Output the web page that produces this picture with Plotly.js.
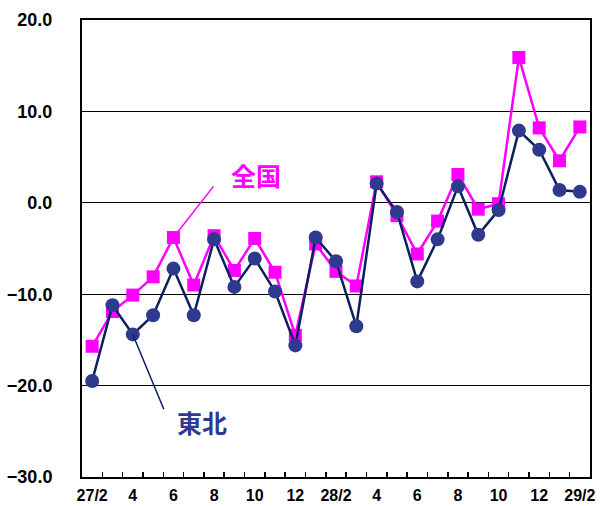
<!DOCTYPE html>
<html>
<head>
<meta charset="utf-8">
<script src="https://cdn.plot.ly/plotly-3.0.1.min.js"></script>
<style>html,body{margin:0;padding:0;background:#fff;}#chart{width:600px;height:506px;}</style>
</head>
<body>
<div id="chart"></div>
<script>
const categories = ['27/2','27/3','27/4','27/5','27/6','27/7','27/8','27/9','27/10','27/11','27/12','28/1',
  '28/2','28/3','28/4','28/5','28/6','28/7','28/8','28/9','28/10','28/11','28/12','29/1','29/2'];
const tickLabels = ['27/2','','4','','6','','8','','10','','12','',
  '28/2','','4','','6','','8','','10','','12','','29/2'];
const zenkoku = [-15.7,-11.9,-10.1,-8.1,-3.8,-9.0,-3.6,-7.4,-3.9,-7.6,-14.5,-4.5,
  -7.5,-9.1,2.3,-1.4,-5.6,-2.0,3.1,-0.7,-0.1,15.9,8.2,4.6,8.3];
const tohoku = [-19.5,-11.2,-14.4,-12.3,-7.2,-12.3,-4.0,-9.2,-6.1,-9.7,-15.6,-3.8,
  -6.4,-13.5,2.1,-1.0,-8.6,-4.0,1.8,-3.5,-0.8,7.9,5.8,1.4,1.2];
const yTicks = [-30,-20,-10,0,10,20];

const font = "'Liberation Sans', Arial, sans-serif";
const traces = [
  {x: categories, y: zenkoku, type: 'scatter', mode: 'lines+markers', name: '全国',
   line: {color: '#FF00FF', width: 2.5},
   marker: {symbol: 'square', size: 13, color: '#FF00FF'}},
  {x: categories, y: tohoku, type: 'scatter', mode: 'lines+markers', name: '東北',
   line: {color: '#0B1F5E', width: 2.5},
   marker: {symbol: 'circle', size: 14, color: '#2E3A8E'}}
];
const layout = {
  width: 600, height: 506,
  margin: {l: 82, r: 10, t: 20, b: 29},
  paper_bgcolor: '#fff', plot_bgcolor: '#fff',
  showlegend: false,
  font: {family: font, color: '#000'},
  xaxis: {
    type: 'category', range: [-0.5, 24.5],
    tickmode: 'array', tickvals: categories, ticktext: tickLabels,
    tickson: 'boundaries', ticks: 'inside', ticklen: 5, tickwidth: 1.5, tickcolor: '#000',
    tickangle: 0,
    showline: true, linecolor: '#000', linewidth: 2, mirror: true,
    showgrid: false, zeroline: false,
    tickfont: {family: font, size: 16, color: '#000', weight: 'bold'},
    ticklabelstandoff: 3
  },
  yaxis: {
    range: [-30, 20], tickmode: 'array', tickvals: yTicks, tickformat: '.1f',
    showline: true, linecolor: '#000', linewidth: 2, mirror: true,
    showgrid: true, gridcolor: '#000', gridwidth: 1,
    zeroline: false, ticks: '',
    tickfont: {family: font, size: 18, color: '#000', weight: 'bold'},
    ticklabelstandoff: 24
  },
  annotations: [
    {x: categories[4], y: zenkoku[4], xref: 'x', yref: 'y', text: ' ', showarrow: true,
     arrowhead: 0, arrowwidth: 1.5, arrowcolor: '#FF00FF', ax: 43, ay: -55},
    {x: categories[2], y: tohoku[2], xref: 'x', yref: 'y', text: ' ', showarrow: true,
     arrowhead: 0, arrowwidth: 1.5, arrowcolor: '#0B1F5E', ax: 34, ay: 82},
    {x: categories[8], y: zenkoku[8], xref: 'x', yref: 'y', text: '全国', showarrow: false,
     xshift: 1, yshift: 63,
     font: {family: "'Noto Sans CJK JP', sans-serif", size: 25, color: '#FF00FF', weight: 'bold'}},
    {x: categories[5], y: tohoku[5], xref: 'x', yref: 'y', text: '東北', showarrow: false,
     xshift: 8, yshift: -107,
     font: {family: "'Noto Sans CJK JP', sans-serif", size: 25, color: '#2E3A8E', weight: 'bold'}}
  ]
};
Plotly.newPlot('chart', traces, layout, {staticPlot: true});
</script>
</body>
</html>
